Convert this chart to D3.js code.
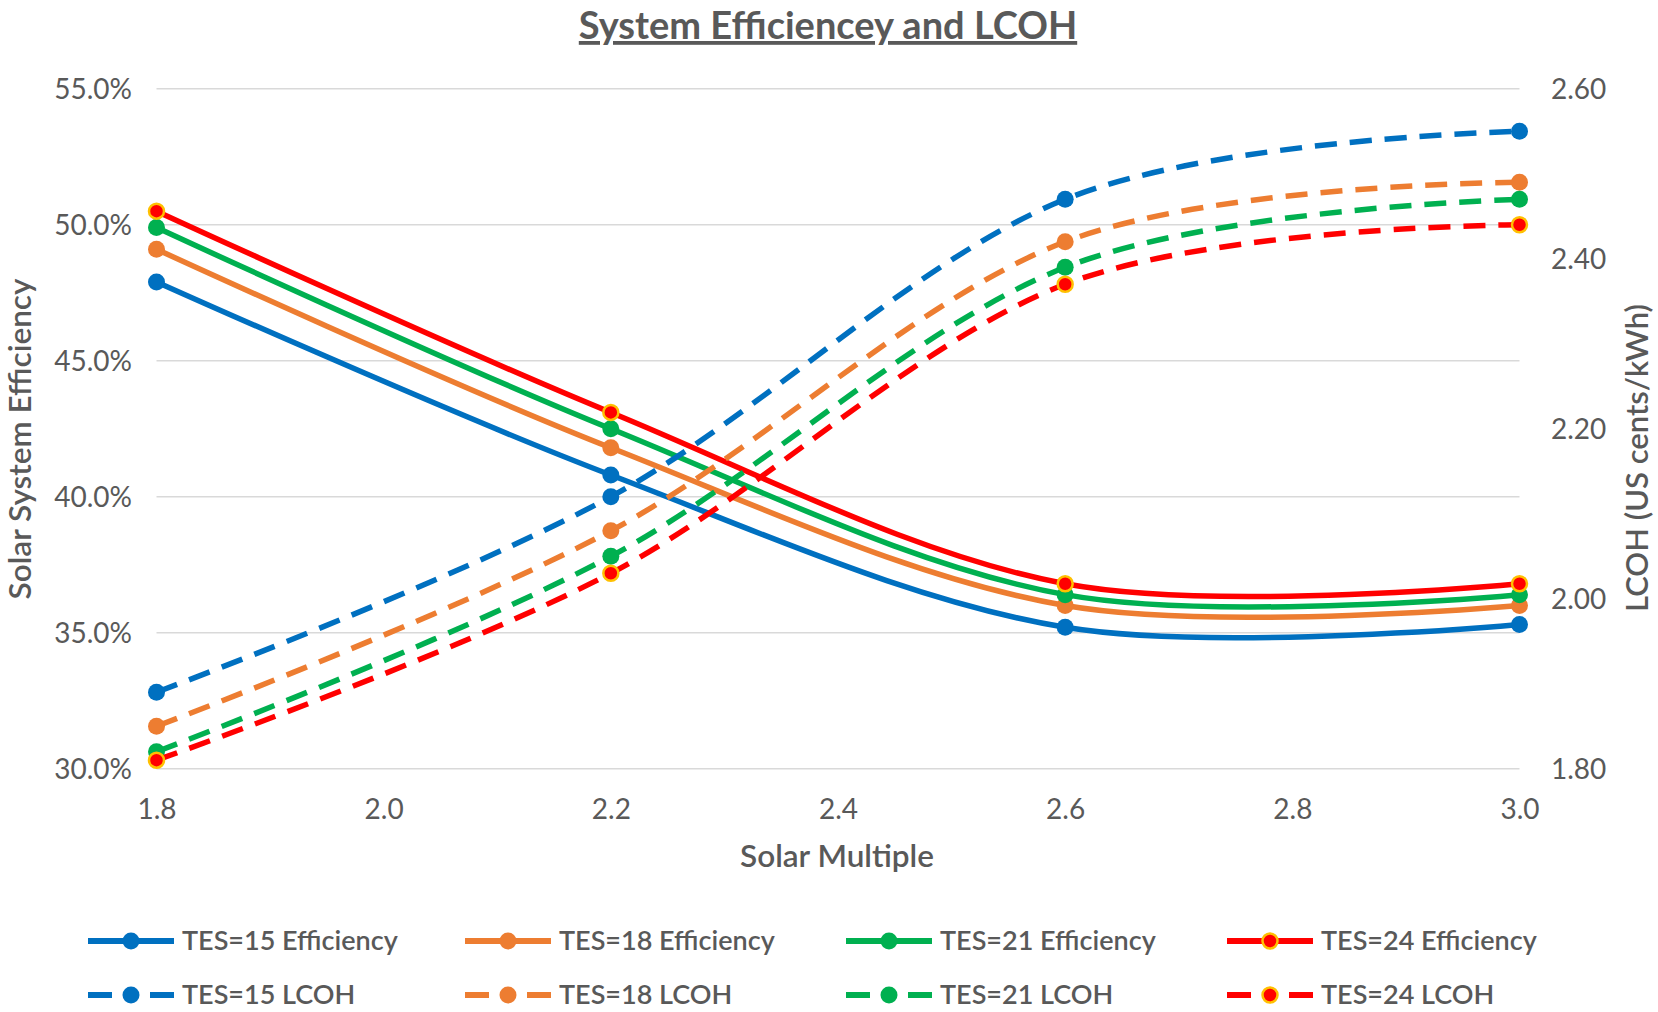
<!DOCTYPE html>
<html>
<head>
<meta charset="utf-8">
<script src="https://cdn.jsdelivr.net/npm/d3@7"></script>
<style>
  html, body { margin: 0; padding: 0; background: #fff; }
  svg { display: block; }
  text { font-family: Lato, "Open Sans", sans-serif; fill: #595959; }
</style>
</head>
<body>
<svg id="chart" width="1658" height="1012"></svg>
<script>
// ---- data ----
const solarMultiple = [1.8, 2.2, 2.6, 3.0];
const xTicks = [1.8, 2.0, 2.2, 2.4, 2.6, 2.8, 3.0];
const leftTicks = [0.30, 0.35, 0.40, 0.45, 0.50, 0.55];
const rightTicks = [1.80, 2.00, 2.20, 2.40, 2.60];

const eff15 = [0.479, 0.408, 0.352, 0.353];
const eff18 = [0.491, 0.418, 0.360, 0.360];
const eff21 = [0.499, 0.425, 0.364, 0.364];
const eff24 = [0.505, 0.431, 0.368, 0.368];

const lcoh15 = [1.89, 2.12, 2.47, 2.55];
const lcoh18 = [1.85, 2.08, 2.42, 2.49];
const lcoh21 = [1.82, 2.05, 2.39, 2.47];
const lcoh24 = [1.81, 2.03, 2.37, 2.44];

const seriesNames = ["TES=15 Efficiency", "TES=18 Efficiency", "TES=21 Efficiency", "TES=24 Efficiency",
                     "TES=15 LCOH", "TES=18 LCOH", "TES=21 LCOH", "TES=24 LCOH"];
const colors = ["#0070C0", "#ED7D31", "#00B050", "#FF0000"];

const title = "System Efficiencey and LCOH";
const xTitle = "Solar Multiple";
const yLeftTitle = "Solar System Efficiency";
const yRightTitle = "LCOH (US cents/kWh)";

// ---- layout ----
const svg = d3.select("#chart");
const x = d3.scaleLinear().domain([1.8, 3.0]).range([156.5, 1519.5]);
const yL = d3.scaleLinear().domain([0.30, 0.55]).range([768.7, 88.8]);
const yR = d3.scaleLinear().domain([1.80, 2.60]).range([768.7, 88.8]);

const effSeries = [eff15, eff18, eff21, eff24].map((v, i) => ({name: seriesNames[i], values: v, color: colors[i], axis: "L", dashed: false, gold: i === 3}));
const lcohSeries = [lcoh15, lcoh18, lcoh21, lcoh24].map((v, i) => ({name: seriesNames[i + 4], values: v, color: colors[i], axis: "R", dashed: true, gold: i === 3}));
const allSeries = effSeries.concat(lcohSeries);

// gridlines
const grid = svg.append("g");
grid.selectAll("line").data(leftTicks).join("line")
  .attr("x1", x.range()[0]).attr("x2", x.range()[1])
  .attr("y1", d => yL(d)).attr("y2", d => yL(d))
  .attr("stroke", "#d9d9d9").attr("stroke-width", 1.5);

// left axis
const axL = svg.append("g").attr("transform", "translate(138,0)")
  .call(d3.axisLeft(yL).tickValues(leftTicks).tickFormat(d3.format(".1%")).tickSize(0).tickPadding(6));
axL.select(".domain").remove();
axL.selectAll("text").style("font-size", "28px").attr("fill", "#595959").attr("dy", "0.35em");

// right axis
const axR = svg.append("g").attr("transform", "translate(1545,0)")
  .call(d3.axisRight(yR).tickValues(rightTicks).tickFormat(d3.format(".2f")).tickSize(0).tickPadding(6));
axR.select(".domain").remove();
axR.selectAll("text").style("font-size", "28px").attr("fill", "#595959").attr("dy", "0.35em");

// bottom axis
const axB = svg.append("g").attr("transform", "translate(0,799)")
  .call(d3.axisBottom(x).tickValues(xTicks).tickFormat(d3.format(".1f")).tickSize(0).tickPadding(0));
axB.select(".domain").remove();
axB.selectAll("text").style("font-size", "28px").attr("fill", "#595959").attr("dy", "0.71em");

// titles
svg.append("text").attr("x", 828).attr("y", 39).attr("text-anchor", "middle")
  .style("font-size", "38px").style("font-weight", "bold").style("text-decoration", "underline").text(title);
svg.append("text").attr("x", 837).attr("y", 856).attr("text-anchor", "middle").attr("dy", "0.35em")
  .style("font-size", "31.5px").style("font-weight", "600").text(xTitle);
svg.append("text").attr("transform", "translate(20,439) rotate(-90)").attr("text-anchor", "middle").attr("dy", "0.35em")
  .style("font-size", "31.5px").style("font-weight", "600").text(yLeftTitle);
svg.append("text").attr("transform", "translate(1637,458) rotate(-90)").attr("text-anchor", "middle").attr("dy", "0.35em")
  .style("font-size", "31px").style("font-weight", "600").text(yRightTitle);

// lines
const lineGen = (s) => d3.line()
  .x((d, i) => x(solarMultiple[i]))
  .y(d => s.axis === "L" ? yL(d) : yR(d))
  .curve(d3.curveCardinal.tension(0));

const plot = svg.append("g");
allSeries.forEach(s => {
  const g = plot.append("g");
  g.append("path").datum(s.values)
    .attr("d", lineGen(s))
    .attr("fill", "none").attr("stroke", s.color).attr("stroke-width", 5.5)
    .attr("stroke-dasharray", s.dashed ? "22,13" : null)
    .attr("stroke-linejoin", "round");
  g.selectAll("circle").data(s.values).join("circle")
    .attr("cx", (d, i) => x(solarMultiple[i]))
    .attr("cy", d => s.axis === "L" ? yL(d) : yR(d))
    .attr("r", s.gold ? 7.5 : 8.5)
    .attr("fill", s.color)
    .attr("stroke", s.gold ? "#FFC000" : "none")
    .attr("stroke-width", s.gold ? 2.5 : 0);
});

// legend
const legCols = [88, 465, 846, 1227];
const legRows = [941, 995];
const legend = svg.append("g");
allSeries.forEach((s, idx) => {
  const col = idx % 4, row = Math.floor(idx / 4);
  const x0 = legCols[col], y0 = legRows[row];
  const g = legend.append("g").attr("transform", `translate(${x0},${y0})`);
  if (s.dashed) {
    g.append("line").attr("x1", 0).attr("x2", 24).attr("y1", 0).attr("y2", 0)
      .attr("stroke", s.color).attr("stroke-width", 6);
    g.append("line").attr("x1", 62).attr("x2", 86).attr("y1", 0).attr("y2", 0)
      .attr("stroke", s.color).attr("stroke-width", 6);
  } else {
    g.append("line").attr("x1", 0).attr("x2", 86).attr("y1", 0).attr("y2", 0)
      .attr("stroke", s.color).attr("stroke-width", 6);
  }
  g.append("circle").attr("cx", 43).attr("cy", 0).attr("r", s.gold ? 7.5 : 8.5)
    .attr("fill", s.color)
    .attr("stroke", s.gold ? "#FFC000" : "none").attr("stroke-width", s.gold ? 2.5 : 0);
  g.append("text").attr("x", 94).attr("y", 0).attr("dy", "0.35em")
    .style("font-size", "27px").style("font-weight", "600").text(s.name);
});
</script>
</body>
</html>
